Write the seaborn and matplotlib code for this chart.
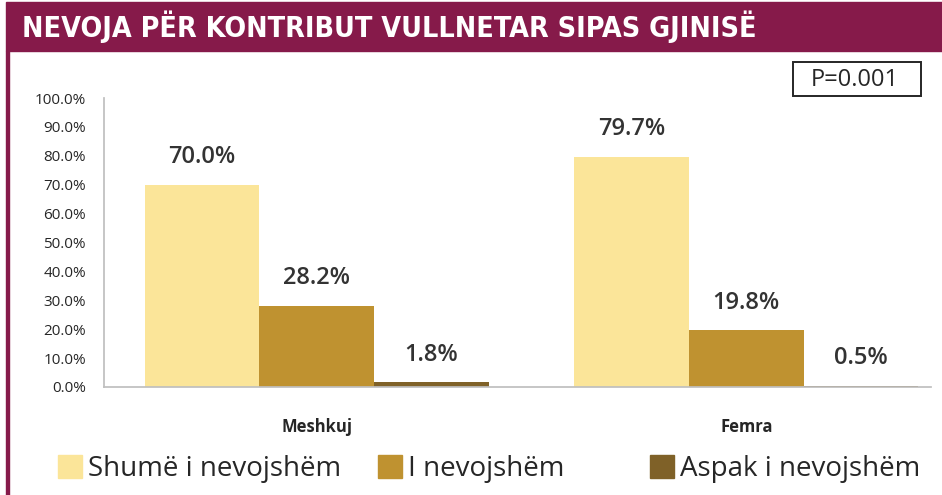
import pandas as pd
import matplotlib.pyplot as plt
import seaborn as sns
from matplotlib.patches import Rectangle, Patch

# Datos
genders = ["Meshkuj", "Femra"]
levels = ["Shumë i nevojshëm", "I nevojshëm", "Aspak i nevojshëm"]
meshkuj = [70.0, 28.2, 1.8]
femra = [79.7, 19.8, 0.5]
y_ticks = [0, 10, 20, 30, 40, 50, 60, 70, 80, 90, 100]

colors = ["#FBE599", "#BF9230", "#7F6128"]
maroon = "#861A4A"
text_col = "#262626"

df = pd.DataFrame({
    "gjinia": [g for g in genders for _ in levels],
    "niveli": levels * len(genders),
    "vlera": meshkuj + femra,
})

sns.set_theme(style="white")
plt.rcParams["font.family"] = ["Open Sans", "DejaVu Sans"]

W, H = 942, 495
fig = plt.figure(figsize=(W / 100, H / 100), dpi=100)
ax = fig.add_axes([104 / W, 1 - 387 / H, 827 / W, 289 / H])

sns.barplot(data=df, x="gjinia", y="vlera", hue="niveli", order=genders,
            hue_order=levels, palette=colors, width=0.8, saturation=1,
            linewidth=0, edgecolor="none", legend=False, ax=ax)

for cont in ax.containers:
    ax.bar_label(cont, fmt="%.1f%%", padding=11, fontsize=17,
                 fontweight="semibold", color="#333333")

ax.set_ylim(0, 100)
ax.set_xlim(-0.495, 1.43)
ax.set_yticks(y_ticks)
ax.set_yticklabels([f"{v:.1f}%" for v in y_ticks], fontsize=11, color=text_col)
ax.tick_params(axis="y", length=0, pad=13)
ax.tick_params(axis="x", length=0, pad=22)
for lbl in ax.get_xticklabels():
    lbl.set_fontweight("bold")
    lbl.set_fontsize(12)
    lbl.set_color(text_col)
ax.set_xlabel("")
ax.set_ylabel("")
for s in ["top", "right"]:
    ax.spines[s].set_visible(False)
ax.spines["left"].set_color("#BFBFBF")
ax.spines["bottom"].set_color("#BFBFBF")

# Banda del título y borde izquierdo
fig.patches.append(Rectangle((6 / W, 1 - 51 / H), 1, 49 / H,
                             transform=fig.transFigure, color=maroon, zorder=0))
fig.patches.append(Rectangle((6 / W, 0), 3 / W, 1 - 51 / H,
                             transform=fig.transFigure, color=maroon, zorder=0))
fig.text(22 / W, 1 - 27 / H, "NEVOJA PËR KONTRIBUT VULLNETAR SIPAS GJINISË",
         color="white", fontsize=20.5, fontweight="bold", va="center",
         family=["DejaVu Sans"], fontstretch="condensed")

# Caja P
fig.patches.append(Rectangle((793 / W, 1 - 96 / H), 128 / W, 34 / H,
                             transform=fig.transFigure, fc="white",
                             ec=text_col, lw=1.4, zorder=1))
fig.text(855 / W, 1 - 80 / H, "P=0.001", fontsize=17, color=text_col,
         ha="center", va="center", zorder=2)

# Leyenda: tres entradas con separación desigual
legend_x = [58, 378, 650]
for x0, c, l in zip(legend_x, colors, levels):
    leg = fig.legend(handles=[Patch(color=c, label=l)], loc="center left",
                     bbox_to_anchor=(x0 / W, 1 - 469 / H), frameon=False,
                     fontsize=20, handlelength=0.86, handleheight=0.86,
                     handletextpad=0.22, borderaxespad=0, borderpad=0)
    for t in leg.get_texts():
        t.set_color(text_col)

fig.savefig("out.png", dpi=100)
